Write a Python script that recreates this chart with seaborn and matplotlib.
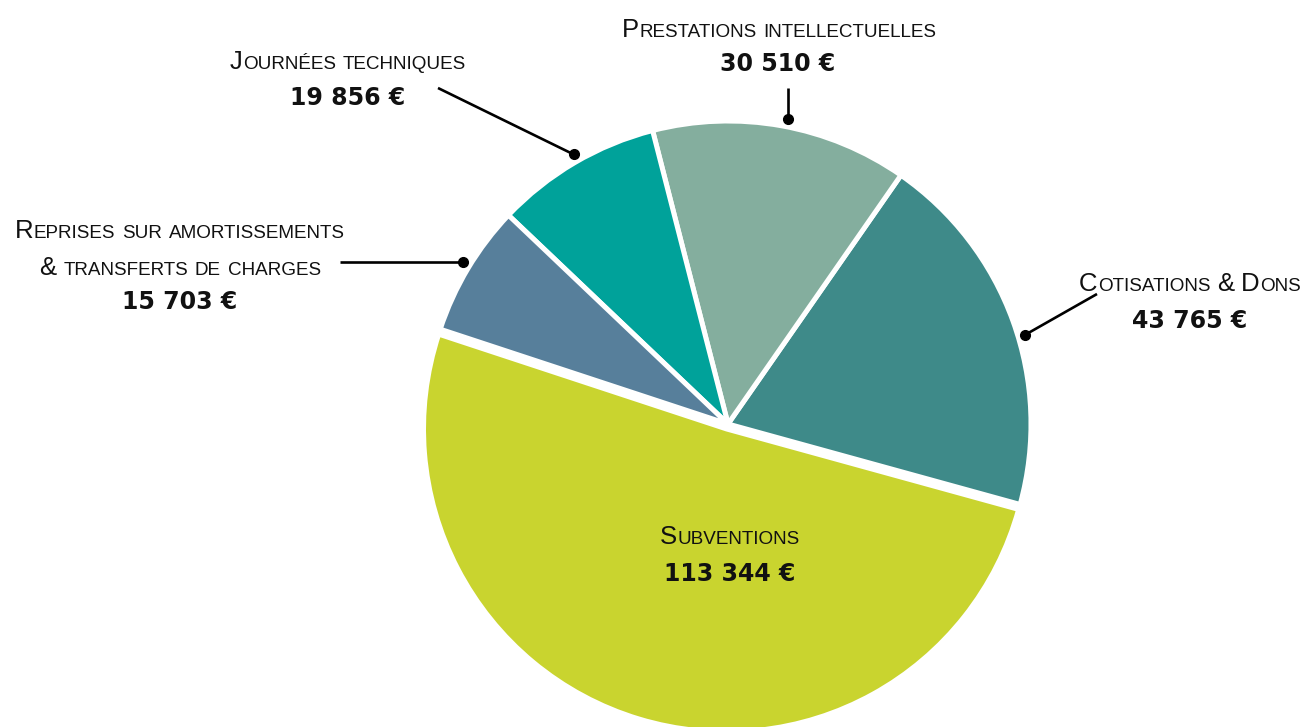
import matplotlib
matplotlib.use("Agg")
import numpy as np
import matplotlib.pyplot as plt
import seaborn as sns
from matplotlib.offsetbox import TextArea, HPacker, AnnotationBbox

# ---------------- data ----------------
categories = ["Cotisations & Dons",
              "Prestations intellectuelles",
              "Journées techniques",
              "Reprises sur amortissements\n& transferts de charges",
              "Subventions"]
values = [43765, 30510, 19856, 15703, 113344]
value_labels = ["43 765 €", "30 510 €", "19 856 €", "15 703 €", "113 344 €"]
colors = ["#3E8A89", "#84AE9E", "#00A29A", "#577F9B", "#C9D42F"]

# ---------------- style ----------------
sns.set_theme(style="white")
plt.rcParams["font.family"] = ["Liberation Sans", "DejaVu Sans"]

W, H = 1309, 727
fig = plt.figure(figsize=(W / 100, H / 100), dpi=100)
ax = fig.add_axes([0, 0, 1, 1])
CX, CY, R = 728, 424, 303  # pie centre / radius in pixels (from top-left)

wedges, _ = ax.pie(values, colors=colors, startangle=-15.4, counterclock=True,
                   explode=[0, 0, 0, 0, 0.017], radius=1,
                   wedgeprops=dict(edgecolor="white", linewidth=3.6))
ax.set_xlim(-CX / R, (W - CX) / R)
ax.set_ylim(-(H - CY) / R, CY / R)
ax.set_aspect("auto")
ax.axis("off")

BIG, SMALL = 18.5, 13.6
TXT = "#111111"


def smallcaps_lines(text):
    out = []
    for line in text.split("\n"):
        words = []
        for w in line.split(" "):
            runs, cur, cur_big = [], "", None
            for ch in w:
                big = ch.isupper() or ch == "&"
                if cur_big is None or big == cur_big:
                    cur += ch.upper()
                    cur_big = big
                else:
                    runs.append((cur, cur_big))
                    cur, cur_big = ch.upper(), big
            runs.append((cur, cur_big))
            kids = [TextArea(t, textprops=dict(size=BIG if b else SMALL, color=TXT))
                    for t, b in runs]
            words.append(HPacker(children=kids, align="baseline", pad=0, sep=0.3))
        out.append(HPacker(children=words, align="baseline", pad=0, sep=5))
    return out


def put_box(box, px, py):
    ab = AnnotationBbox(box, (px, H - py), xycoords="figure pixels",
                        frameon=False, box_alignment=(0.5, 0.5), pad=0)
    fig.add_artist(ab)


# label layout (pixel positions of text centres, from top-left)
title_pos = {
    0: [(1190, 284)],
    1: [(779, 30)],
    2: [(348, 62)],
    3: [(180, 231), (180, 268)],
    4: [(730, 537)],
}
value_pos = {0: (1190, 321), 1: (778, 64), 2: (348, 98), 3: (180, 302), 4: (730, 574)}

for i, cat in enumerate(categories):
    for box, (px, py) in zip(smallcaps_lines(cat), title_pos[i]):
        put_box(box, px, py)
    vx, vy = value_pos[i]
    fig.text(vx / W, 1 - vy / H, value_labels[i], ha="center", va="center",
             fontsize=17, fontweight="bold", color=TXT,
             family=["DejaVu Sans"])

# leader lines with dots on the wedges
def px_to_data(px, py):
    return ((px - CX) / R, (CY - py) / R)

anchor_frac = {0: 0.455, 1: 0.48, 2: 0.48, 3: 0.48}
for i, start in [(0, (1097, 294)), (1, None), (2, (438, 88)), (3, None)]:
    w = wedges[i]
    ang = np.deg2rad(w.theta1 + anchor_frac[i] * (w.theta2 - w.theta1))
    dot = (1.025 * np.cos(ang), 1.025 * np.sin(ang))
    if i == 1:
        sx, sy = dot[0], px_to_data(0, 88)[1]
    elif i == 3:
        sx, sy = px_to_data(340, 0)[0], dot[1]
    else:
        sx, sy = px_to_data(*start)
    ax.plot([sx, dot[0]], [sy, dot[1]], color="black", lw=1.9,
            solid_capstyle="butt", clip_on=False)
    ax.plot([dot[0]], [dot[1]], "o", color="black", ms=7, clip_on=False)

fig.savefig("out.png", dpi=100, facecolor="white")
